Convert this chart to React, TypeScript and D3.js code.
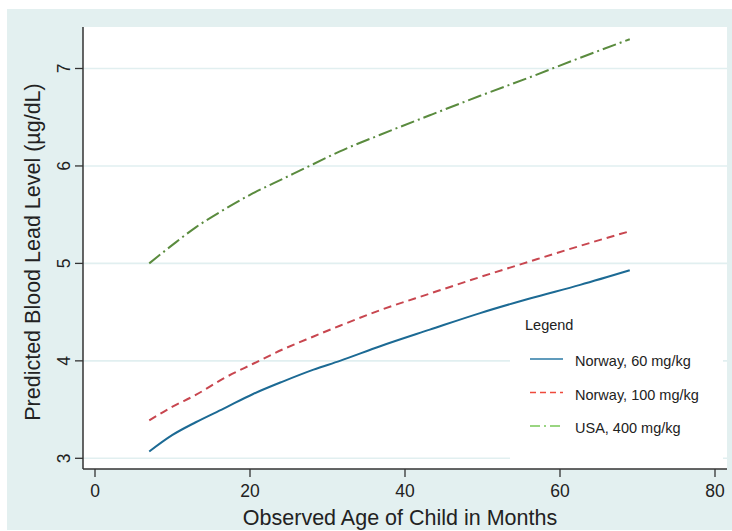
import { useEffect, useRef } from "react";
import * as d3 from "d3";

// observed ages (months) where the predicted curves were read
const months = [7, 10, 13, 16.6, 20.4, 24.3, 28.2, 31.6, 36.8, 43.2, 49.7, 56.1, 62.6, 69];
const norway60 = [3.07, 3.24, 3.37, 3.51, 3.66, 3.79, 3.91, 4.0, 4.15, 4.32, 4.49, 4.64, 4.78, 4.93];
const norway100 = [3.39, 3.53, 3.65, 3.82, 3.97, 4.12, 4.25, 4.36, 4.52, 4.69, 4.86, 5.02, 5.18, 5.33];
const usa400 = [5.0, 5.19, 5.37, 5.55, 5.72, 5.87, 6.02, 6.15, 6.32, 6.52, 6.72, 6.91, 7.11, 7.3];

const xTicks = [0, 20, 40, 60, 80];
const yTicks = [3, 4, 5, 6, 7];

const series = [
  { name: "Norway, 60 mg/kg", values: norway60, color: "#1c6a94", legendColor: "#2b7aa6", dash: null },
  { name: "Norway, 100 mg/kg", values: norway100, color: "#c8464f", legendColor: "#ee4a3c", dash: "8,5" },
  { name: "USA, 400 mg/kg", values: usa400, color: "#5a8b3e", legendColor: "#78c858", dash: "14,4,2,4" },
];

const FONT = "'Liberation Sans', Arial, Helvetica, sans-serif";

export default function App() {
  const ref = useRef(null);

  useEffect(() => {
    const width = 732;
    const plot = { left: 83, right: 727, top: 27, bottom: 469 };

    const svg = d3.select(ref.current);
    svg.selectAll("*").remove();

    const x = d3.scaleLinear().domain([0, 80]).range([95, 715]);
    const y = d3.scaleLinear().domain([3, 7]).range([458.3, 68.5]);

    // outer background
    svg.append("rect").attr("x", 7).attr("y", 9).attr("width", width - 7).attr("height", 521).attr("fill", "#e3f0f0");
    svg
      .append("rect")
      .attr("x", plot.left)
      .attr("y", plot.top)
      .attr("width", plot.right - plot.left)
      .attr("height", plot.bottom - plot.top)
      .attr("fill", "#ffffff");

    // gridlines
    svg
      .append("g")
      .selectAll("line")
      .data(yTicks)
      .join("line")
      .attr("x1", plot.left)
      .attr("x2", plot.right)
      .attr("y1", (d) => y(d))
      .attr("y2", (d) => y(d))
      .attr("stroke", "#e1eff0")
      .attr("stroke-width", 1.6);

    // curves
    const line = d3
      .line<number>()
      .x((_, i) => x(months[i]))
      .y((d) => y(d))
      .curve(d3.curveMonotoneX);

    series.forEach((s) => {
      svg
        .append("path")
        .datum(s.values)
        .attr("fill", "none")
        .attr("stroke", s.color)
        .attr("stroke-width", 2)
        .attr("stroke-dasharray", s.dash)
        .attr("d", line);
    });

    // legend
    const lg = svg.append("g").attr("font-family", FONT).attr("fill", "#222");
    lg.append("rect").attr("x", 510).attr("y", 305).attr("width", 213).attr("height", 158).attr("fill", "#ffffff");
    lg.append("text").attr("x", 525).attr("y", 330).attr("font-size", 14.5).attr("fill", "#222").text("Legend");
    series.forEach((s, i) => {
      const ly = 359 + i * 33.5;
      lg.append("line")
        .attr("x1", 530)
        .attr("x2", 563)
        .attr("y1", ly)
        .attr("y2", ly)
        .attr("stroke", s.legendColor)
        .attr("stroke-width", 1.6)
        .attr("stroke-dasharray", i === 1 ? "6,4" : i === 2 ? "10,4,2,4" : null);
      lg.append("text")
        .attr("x", 575)
        .attr("y", ly + 7)
        .attr("font-size", 14.5)
        .attr("fill", "#222")
        .text(s.name);
    });

    // axes
    const axisColor = "#333";
    svg.append("line").attr("x1", plot.left).attr("x2", plot.right).attr("y1", plot.bottom).attr("y2", plot.bottom).attr("stroke", axisColor).attr("stroke-width", 1.5);
    svg.append("line").attr("x1", plot.left).attr("x2", plot.left).attr("y1", plot.top).attr("y2", plot.bottom).attr("stroke", axisColor).attr("stroke-width", 1.5);

    const xg = svg.append("g");
    xg.selectAll("line")
      .data(xTicks)
      .join("line")
      .attr("x1", (d) => x(d))
      .attr("x2", (d) => x(d))
      .attr("y1", plot.bottom)
      .attr("y2", plot.bottom + 8)
      .attr("stroke", axisColor)
      .attr("stroke-width", 1.3);
    xg.selectAll("text")
      .data(xTicks)
      .join("text")
      .attr("x", (d) => x(d))
      .attr("y", 497)
      .attr("text-anchor", "middle")
      .attr("font-family", FONT)
      .attr("font-size", 17.5)
      .attr("fill", "#222")
      .text((d) => d);

    const yg = svg.append("g");
    yg.selectAll("line")
      .data(yTicks)
      .join("line")
      .attr("x1", plot.left - 8)
      .attr("x2", plot.left)
      .attr("y1", (d) => y(d))
      .attr("y2", (d) => y(d))
      .attr("stroke", axisColor)
      .attr("stroke-width", 1.3);
    yg.selectAll("text")
      .data(yTicks)
      .join("text")
      .attr("transform", (d) => `translate(70,${y(d)}) rotate(-90)`)
      .attr("text-anchor", "middle")
      .attr("font-family", FONT)
      .attr("font-size", 17.5)
      .attr("fill", "#222")
      .text((d) => d);

    // axis titles
    svg
      .append("text")
      .attr("x", 400)
      .attr("y", 525)
      .attr("text-anchor", "middle")
      .attr("font-family", FONT)
      .attr("font-size", 21.5)
      .attr("fill", "#222")
      .text("Observed Age of Child in Months");

    svg
      .append("text")
      .attr("transform", "translate(40,252) rotate(-90)")
      .attr("text-anchor", "middle")
      .attr("font-family", FONT)
      .attr("font-size", 21.5)
      .attr("fill", "#222")
      .text("Predicted Blood Lead Level (µg/dL)");
  }, []);

  return (
    <svg
      ref={ref}
      width={732}
      height={531}
      style={{ position: "absolute", left: 0, top: 0, background: "#fff" }}
    />
  );
}
